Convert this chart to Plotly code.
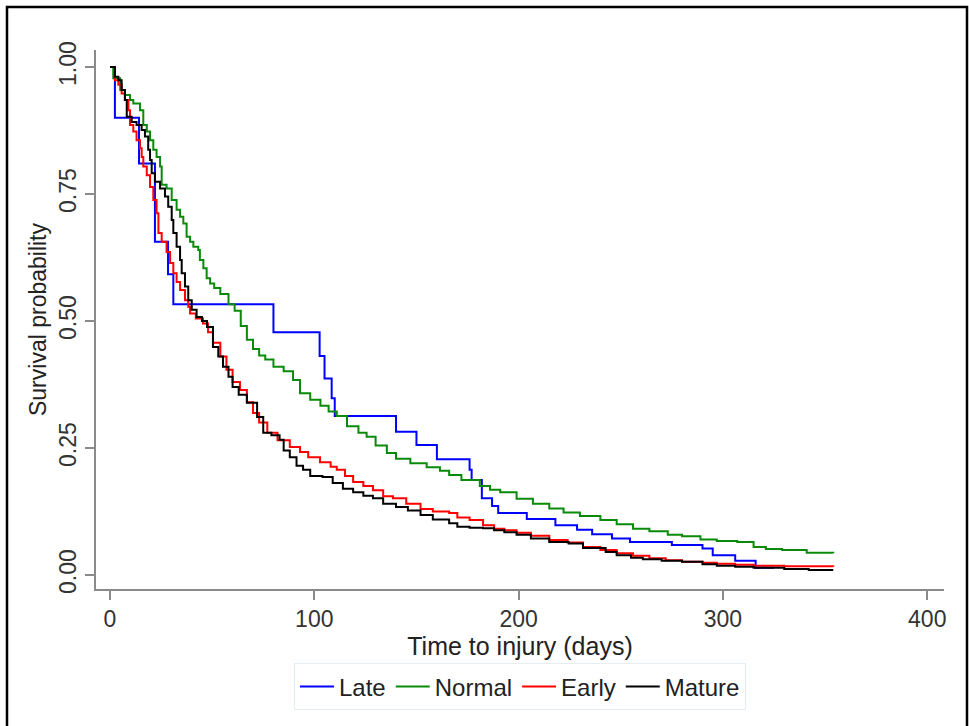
import plotly.graph_objects as go

# ---- data (Kaplan-Meier step curves) ----
late_t = [0, 2.4, 14.2, 22, 28.4, 31, 80, 102.6, 105, 108.5, 110, 140, 150, 160, 176, 177, 182,
          187, 190, 204, 218, 228.6, 236, 245.7, 254.5, 275, 290, 295, 306, 316, 325]
late_s = [1.0, 0.90, 0.81, 0.656, 0.592, 0.533, 0.478, 0.431, 0.387, 0.348, 0.313, 0.282, 0.256,
          0.228, 0.207, 0.187, 0.151, 0.136, 0.122, 0.110, 0.098, 0.089, 0.080, 0.072, 0.065,
          0.059, 0.052, 0.039, 0.028, 0.014, 0.014]

normal_t = [0, 1.6, 5, 7.3, 9.8, 11.4, 14.7, 16.3, 18, 19.6, 21.2, 22.8, 24.5, 25.3, 27.7, 30.2,
            32.6, 34.3, 35.9, 37.5, 39.2, 40.8, 43.2, 44, 45.7, 47.3, 49, 51, 54, 58, 61, 64, 67,
            70, 73, 76, 80, 85, 89.6, 93, 98, 103, 107, 111, 116, 121.6, 125.6, 130, 135.5, 140,
            147, 155, 161.5, 166, 172, 181, 186, 191, 199, 207, 215, 222, 230, 240, 248, 256, 264,
            273, 280, 289, 297, 307, 315, 321, 329, 341, 354]
normal_s = [1.0, 0.978, 0.955, 0.945, 0.935, 0.928, 0.915, 0.886, 0.873, 0.856, 0.837, 0.823,
            0.804, 0.768, 0.761, 0.738, 0.719, 0.705, 0.692, 0.666, 0.656, 0.646, 0.640, 0.620,
            0.604, 0.584, 0.574, 0.565, 0.553, 0.533, 0.520, 0.490, 0.463, 0.445, 0.432, 0.424,
            0.410, 0.401, 0.384, 0.358, 0.345, 0.333, 0.322, 0.313, 0.293, 0.280, 0.272, 0.255,
            0.240, 0.229, 0.220, 0.212, 0.205, 0.197, 0.187, 0.175, 0.168, 0.163, 0.150, 0.140,
            0.131, 0.123, 0.116, 0.108, 0.100, 0.091, 0.086, 0.079, 0.076, 0.070, 0.067, 0.065,
            0.055, 0.051, 0.049, 0.044, 0.043]

early_t = [0, 2.4, 4.1, 5.7, 7.3, 9.0, 9.8, 11.4, 13, 14.7, 15.5, 16.3, 18, 19.6, 21.2, 22.8, 23.7,
           25.3, 27.7, 29.4, 31, 32.6, 34.3, 36.7, 38.3, 39.2, 42, 45.5, 48, 50.4, 54, 57, 60, 63.6,
           67, 70, 73, 77, 82, 88, 93, 97, 102.8, 108, 111, 115, 119, 124, 128.7, 133.7, 138.5,
           145, 152, 158, 166, 170, 176, 182.6, 188, 193, 199, 206, 215, 224, 231.5, 240, 248,
           256, 264, 272, 280, 290, 297, 306, 315, 330, 354]
early_s = [1.0, 0.974, 0.965, 0.948, 0.935, 0.915, 0.886, 0.873, 0.856, 0.840, 0.823, 0.804,
           0.787, 0.764, 0.738, 0.712, 0.673, 0.656, 0.636, 0.614, 0.594, 0.577, 0.561, 0.541,
           0.528, 0.515, 0.505, 0.495, 0.478, 0.457, 0.430, 0.404, 0.380, 0.364, 0.340, 0.319,
           0.300, 0.280, 0.265, 0.252, 0.242, 0.232, 0.222, 0.213, 0.207, 0.195, 0.183, 0.175,
           0.167, 0.155, 0.151, 0.140, 0.130, 0.125, 0.122, 0.113, 0.108, 0.098, 0.091, 0.088,
           0.083, 0.077, 0.069, 0.064, 0.055, 0.049, 0.043, 0.038, 0.033, 0.029, 0.026, 0.024,
           0.022, 0.020, 0.018, 0.017, 0.016]

mature_t = [0, 2.4, 4.1, 5.7, 7.3, 8.2, 10.6, 13, 15.5, 17.1, 18.7, 19.6, 20.4, 22, 24.5, 26.9,
            28.5, 30.2, 31, 32.6, 34.3, 35.1, 36.7, 38.3, 40, 42.4, 45, 47.5, 50.4, 53, 55.3, 58,
            60, 63, 67, 72, 75, 79, 83, 85, 88, 91.3, 94.5, 98, 104, 109, 114, 119, 124, 128.7,
            133.7, 140, 145.8, 152, 158, 166, 170, 176, 182.6, 188, 193, 199, 206, 215, 224.5,
            231.5, 242.6, 248, 255, 260.8, 270, 280, 290, 297, 306, 315, 330, 342, 354]
mature_s = [1.0, 0.981, 0.974, 0.955, 0.935, 0.902, 0.892, 0.886, 0.876, 0.863, 0.837, 0.817,
            0.791, 0.774, 0.761, 0.745, 0.725, 0.699, 0.673, 0.646, 0.620, 0.594, 0.568, 0.541,
            0.522, 0.508, 0.500, 0.488, 0.449, 0.430, 0.410, 0.390, 0.370, 0.355, 0.339, 0.311,
            0.280, 0.275, 0.266, 0.245, 0.232, 0.215, 0.207, 0.195, 0.193, 0.181, 0.170, 0.163,
            0.156, 0.151, 0.140, 0.134, 0.127, 0.118, 0.109, 0.102, 0.095, 0.093, 0.092, 0.088,
            0.084, 0.079, 0.072, 0.065, 0.062, 0.053, 0.045, 0.039, 0.034, 0.031, 0.028, 0.026,
            0.021, 0.018, 0.016, 0.014, 0.012, 0.010, 0.010]

x_ticks = [0, 100, 200, 300, 400]
y_ticks = [0, 0.25, 0.5, 0.75, 1.0]
y_ticklabels = ["0.00", "0.25", "0.50", "0.75", "1.00"]

series = [
    ("Late", late_t, late_s, "#0000ff"),
    ("Normal", normal_t, normal_s, "#0a8a0a"),
    ("Early", early_t, early_s, "#ff0000"),
    ("Mature", mature_t, mature_s, "#000000"),
]

fig = go.Figure()
for name, t, s, color in series:
    fig.add_trace(go.Scatter(x=t, y=s, mode="lines", name=name,
                             line=dict(color=color, width=2, shape="hv")))

W, H = 969, 726
L, R, T, B = 96, 944, 50, 589
pw, ph = R - L, B - T

FONT = "Liberation Sans, Arial, sans-serif"

fig.update_layout(
    width=W, height=H,
    margin=dict(l=L, r=W - R, t=T, b=H - B, pad=0, autoexpand=False),
    paper_bgcolor="white", plot_bgcolor="white",
    font=dict(family=FONT, size=23, color="#222222"),
    showlegend=True,
    legend=dict(orientation="h", x=0.5, xanchor="center", y=-0.138, yanchor="top",
                bgcolor="white", bordercolor="#e6edf2", borderwidth=1,
                font=dict(family=FONT, size=24, color="#222222"),
                itemwidth=34, tracegroupgap=0),
    xaxis=dict(range=[-6.85, 408.2], tickvals=x_ticks, ticks="outside", ticklen=9,
               tickcolor="#8a8a8a", tickwidth=1.5, showline=True, linecolor="#8a8a8a",
               linewidth=1.5, showgrid=False, zeroline=False, automargin=False,
               title=dict(text="Time to injury (days)", standoff=4,
                          font=dict(size=25, color="#222222")),
               tickfont=dict(color="#333333", size=23)),
    yaxis=dict(range=[-0.0276, 1.0335], tickvals=y_ticks, ticktext=y_ticklabels,
               tickangle=-90, ticks="outside", ticklen=9, tickcolor="#8a8a8a", tickwidth=1.5,
               showline=True, linecolor="#8a8a8a", linewidth=1.5, showgrid=False,
               zeroline=False, automargin=False,
               title=dict(text="Survival probability", standoff=2,
                          font=dict(size=23, color="#222222")),
               tickfont=dict(color="#333333", size=23)),
)

# outer black frame around the whole picture
fig.add_shape(type="rect", xref="paper", yref="paper",
              x0=(7 - L) / pw, x1=(967 - L) / pw,
              y0=(B - 740) / ph, y1=(B - 7) / ph,
              line=dict(color="black", width=2.5), fillcolor="rgba(0,0,0,0)", layer="above")

fig.write_html("out.html",
               config={"displayModeBar": False},
               post_script="document.body.style.margin='0';document.body.style.overflow='hidden';")
